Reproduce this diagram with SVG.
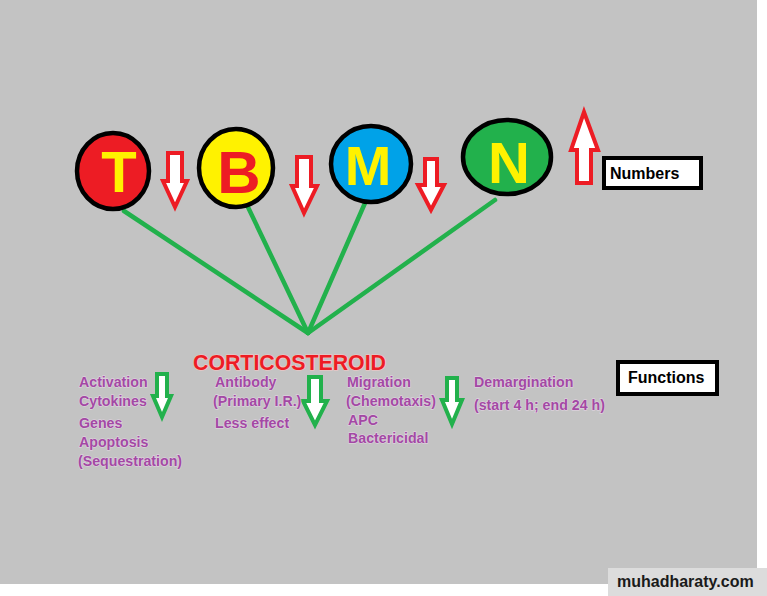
<svg xmlns="http://www.w3.org/2000/svg" width="767" height="596" viewBox="0 0 767 596">
<style>
.cell{stroke:#000;stroke-width:4.5}
.let{font-family:"Liberation Sans",Arial,sans-serif;font-weight:bold;text-anchor:middle}
.red-arr{fill:#fff;stroke:#ed1c24;stroke-width:4;stroke-linejoin:miter}
.grn-arr{fill:#fff;stroke:#22b14c;stroke-width:4;stroke-linejoin:miter}
.conn{stroke:#22b14c;stroke-width:4.5;stroke-linecap:round;fill:none}
.box{fill:#fff;stroke:#000;stroke-width:4}
.boxt{font-family:"Liberation Sans",Arial,sans-serif;font-weight:bold;font-size:16px;fill:#000}
.fn{font-family:"Liberation Sans",Arial,sans-serif;font-weight:bold;font-size:14.2px;fill:#a349a4;stroke:#e6d6e6;stroke-width:1;paint-order:stroke}
.title{font-family:"Liberation Sans",Arial,sans-serif;font-weight:bold;font-size:22px;fill:#ed1c24;stroke:#f7c8c8;stroke-width:1.2;paint-order:stroke}
</style>
<rect x="0" y="0" width="767" height="596" fill="#fff"/>
<path d="M0,0 H757 V568 H608 V584 H0 Z" fill="#c3c3c3"/>

<g id="connectors">
<line class="conn" x1="124" y1="211" x2="308" y2="333"/>
<line class="conn" x1="247" y1="205" x2="308" y2="333"/>
<line class="conn" x1="365" y1="203" x2="308" y2="333"/>
<line class="conn" x1="495" y1="200" x2="308" y2="333"/>
</g>

<g id="node-T">
<ellipse class="cell" cx="113" cy="171" rx="36" ry="38" fill="#ed1c24"/>
<text class="let" x="119" y="192" font-size="58" fill="#fff200">T</text>
</g>
<g id="node-B">
<ellipse class="cell" cx="236" cy="168" rx="37" ry="39" fill="#fff200"/>
<text class="let" x="239" y="193" font-size="60" fill="#ed1c24">B</text>
</g>
<g id="node-M">
<ellipse class="cell" cx="371" cy="164" rx="40" ry="38" fill="#00a2e8"/>
<text class="let" x="368" y="185" font-size="56" fill="#fff200">M</text>
</g>
<g id="node-N">
<ellipse class="cell" cx="507" cy="157" rx="44" ry="37" fill="#22b14c"/>
<text class="let" x="509" y="183" font-size="58" fill="#fff200">N</text>
</g>

<g id="red-arrows">
<path class="red-arr" d="M168,153 H182 V181 H187 L175,207 L163,181 H168 Z"/>
<path class="red-arr" d="M297,157 H311 V186 H317 L304,213 L292,186 H297 Z"/>
<path class="red-arr" d="M425,159 H437 V185 H444 L431,210 L418,185 H425 Z"/>
<path class="red-arr" d="M577,183 H591 V150 H598 L584,112 L571,150 H577 Z"/>
</g>

<g id="numbers">
<rect class="box" x="604" y="158" width="97" height="30"/>
<text class="boxt" x="610" y="179">Numbers</text>
</g>
<g id="functions">
<rect class="box" x="618" y="362" width="99" height="32"/>
<text class="boxt" x="628" y="383">Functions</text>
</g>

<g id="corticosteroid">
<text class="title" x="193" y="370" textLength="193" lengthAdjust="spacingAndGlyphs">CORTICOSTEROID</text>
</g>

<g id="green-arrows">
<path class="grn-arr" d="M157,374 H167 V396 H171 L162,417 L153,396 H157 Z"/>
<path class="grn-arr" d="M309,377 H321 V401 H327 L315,425 L303,401 H309 Z"/>
<path class="grn-arr" d="M447,378 H457 V400 H462 L452,424 L442,400 H447 Z"/>
</g>

<g id="col-T">
<text class="fn" x="79" y="387">Activation</text>
<text class="fn" x="79" y="406">Cytokines</text>
<text class="fn" x="79" y="428">Genes</text>
<text class="fn" x="79" y="447">Apoptosis</text>
<text class="fn" x="78" y="466">(Sequestration)</text>
</g>
<g id="col-B">
<text class="fn" x="215" y="387">Antibody</text>
<text class="fn" x="213" y="406">(Primary I.R.)</text>
<text class="fn" x="215" y="428">Less effect</text>
</g>
<g id="col-M">
<text class="fn" x="347" y="387">Migration</text>
<text class="fn" x="346" y="406">(Chemotaxis)</text>
<text class="fn" x="348" y="425">APC</text>
<text class="fn" x="348" y="443">Bactericidal</text>
</g>
<g id="col-N">
<text class="fn" x="474" y="387">Demargination</text>
<text class="fn" x="474" y="410">(start 4 h; end 24 h)</text>
</g>

<g id="watermark">
<rect x="608" y="568" width="159" height="28" fill="#dcdcdc"/>
<text x="617" y="587" font-family="Liberation Sans,Arial,sans-serif" font-weight="bold" font-size="16" fill="#1a1a1a">muhadharaty.com</text>
</g>
</svg>
